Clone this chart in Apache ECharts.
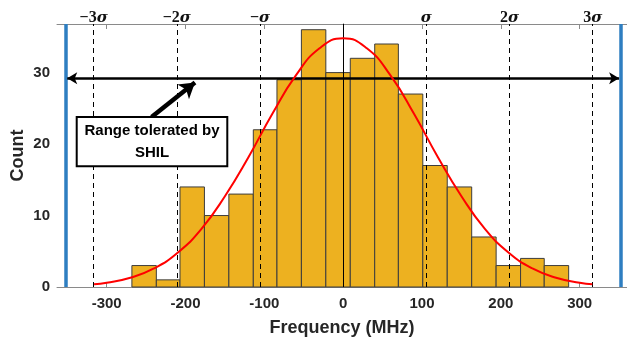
<!DOCTYPE html>
<html><head><meta charset="utf-8">
<script src="https://cdn.jsdelivr.net/npm/echarts@6/dist/echarts.min.js"></script>
<style>html,body{margin:0;padding:0;background:#fff}#c{width:627px;height:342px}</style>
</head><body><div id="c"></div>
<script>
// ---- data ----
const binEdges = [-268,-237,-207,-176,-145,-114,-84,-53,-22,9,40,70,101,132,163,194,225,255,286];
const counts   = [3,1,14,10,13,22,29,36,30,32,34,27,17,14,7,3,4,3];
const fitX = [-316,-300,-270,-240,-210,-180,-150,-120,-90,-60,-30,0,30,60,90,120,150,180,210,240,270,300,316];
const fitY = [0.4,0.6,1.3,2.6,4.8,8.1,12.7,18.2,24.2,29.6,33.4,34.8,33.4,29.6,24.2,18.2,12.7,8.1,4.8,2.6,1.3,0.6,0.4];
const sigmaPos = [-316.5,-211,-105.5,105.5,211,316.5];
const sigmaLabels = ['−3','−2','−','','2','3'];
const xTicks = [-300,-200,-100,0,100,200,300];
const yTicks = [0,10,20,30];
const meanX = 0;
const shilLimits = [-352,352];
const shilArrowY = 29.2;
const arrowFrom = [-350,350];
const annotText = ['Range tolerated by','SHIL'];
const pointerFrom = [-243,23.8];
const pointerTo = [-188,28.6];

const bars = counts.map((c,i)=>[binEdges[i],binEdges[i+1],c]);
const fit = fitX.map((x,i)=>[x,fitY[i]]);

const chart = echarts.init(document.getElementById('c'));
const axisGray = '#8a8a8a';
const txt = '#262626';
const option = {
  animation:false,
  grid:{left:57,right:0,top:24,bottom:55,containLabel:false,outerBoundsMode:'none'},
  xAxis:[{
    type:'value',min:-363,max:360,interval:100,position:'bottom',
    name:'Frequency (MHz)',nameLocation:'middle',nameGap:32,
    nameTextStyle:{fontFamily:'Liberation Sans',fontWeight:'bold',fontSize:18,color:txt},
    axisLine:{show:true,lineStyle:{color:axisGray,width:1}},
    axisTick:{show:true,inside:true,length:5,lineStyle:{color:axisGray},customValues:xTicks},
    axisLabel:{fontFamily:'Liberation Sans',fontWeight:'bold',fontSize:15,color:txt,margin:9,customValues:xTicks,formatter:v=>String(v)},
    splitLine:{show:false}
  },{
    type:'value',min:-363,max:360,position:'top',
    axisLine:{show:true,onZero:false,lineStyle:{color:axisGray,width:1}},
    axisTick:{show:true,inside:true,length:5,lineStyle:{color:axisGray},customValues:xTicks},
    axisLabel:{show:false},splitLine:{show:false}
  }],
  yAxis:[{
    type:'value',min:0,max:36.8,position:'left',
    name:'Count',nameLocation:'middle',nameGap:30,nameRotate:90,nameMoveOverlap:false,
    nameTextStyle:{fontFamily:'Liberation Sans',fontWeight:'bold',fontSize:18,color:txt},
    axisLine:{show:true,lineStyle:{color:axisGray,width:1}},
    axisTick:{show:true,inside:true,length:5,lineStyle:{color:axisGray},customValues:yTicks},
    axisLabel:{fontFamily:'Liberation Sans',fontWeight:'bold',fontSize:15,color:txt,margin:7,customValues:yTicks},
    splitLine:{show:false}
  },{
    type:'value',min:0,max:36.8,position:'right',
    axisLine:{show:true,lineStyle:{color:axisGray}},
    axisTick:{show:true,inside:true,length:5,lineStyle:{color:axisGray},customValues:yTicks},
    axisLabel:{show:false},splitLine:{show:false}
  }],
  series:[
    {type:'custom',xAxisIndex:0,yAxisIndex:0,data:bars,z:2,
     renderItem:(params,api)=>{
       const p0=api.coord([api.value(0),api.value(2)]);
       const p1=api.coord([api.value(1),0]);
       return {type:'rect',shape:{x:p0[0],y:p0[1],width:p1[0]-p0[0],height:p1[1]-p0[1]},
               style:{fill:'#EDB120',stroke:'#3d3d3d',lineWidth:1}};
     }},
    {type:'line',data:[],z:3,silent:true,
     markLine:{silent:true,symbol:['none','none'],animation:false,
       lineStyle:{color:'#000',type:[5,4],width:1},
       label:{show:true,position:'end',distance:-2,color:'#111',
         formatter:p=>'{n|'+sigmaLabels[p.dataIndex]+'}{s|σ}',
         rich:{n:{fontFamily:'Liberation Serif',fontWeight:'bold',fontSize:16,color:'#111'},
               s:{fontFamily:'DejaVu Serif',fontStyle:'italic',fontWeight:'bold',fontSize:15,color:'#111'}}},
       data:sigmaPos.map(v=>({xAxis:v}))}},
    {type:'line',data:[],z:3,silent:true,
     markLine:{silent:true,symbol:['none','none'],label:{show:false},
       lineStyle:{color:'#000',type:'solid',width:1},data:[{xAxis:meanX}]}},
    {type:'line',data:[],z:4,silent:true,
     markLine:{silent:true,symbol:['none','none'],label:{show:false},
       lineStyle:{color:'#2E7EC1',type:'solid',width:3.5},data:shilLimits.map(v=>({xAxis:v}))}},
    {type:'line',data:fit,smooth:true,showSymbol:false,z:5,
     lineStyle:{color:'#FF0000',width:2},itemStyle:{color:'#FF0000'}},
    {type:'line',data:[],z:6,silent:true,
     markLine:{silent:true,symbol:['arrow','arrow'],symbolSize:[9,10],label:{show:false},
       lineStyle:{color:'#000',type:'solid',width:2.5},
       data:[[{coord:[arrowFrom[0],shilArrowY]},{coord:[arrowFrom[1],shilArrowY]}]]}},
    {type:'line',data:[],z:6,silent:true,
     markLine:{silent:true,symbol:['none','arrow'],symbolSize:[14,15],label:{show:false},
       lineStyle:{color:'#000',type:'solid',width:4.5},
       data:[[{coord:pointerFrom},{coord:pointerTo}]]}}
  ]
};
chart.setOption(option);
// annotation box placed in data coordinates
const tl = chart.convertToPixel({xAxisIndex:0,yAxisIndex:0},[-338,23.8]);
const br = chart.convertToPixel({xAxisIndex:0,yAxisIndex:0},[-147,16.9]);
chart.setOption({graphic:[{type:'group',z:100,children:[
  {type:'rect',shape:{x:tl[0],y:tl[1],width:br[0]-tl[0],height:br[1]-tl[1]},
   style:{fill:'#fff',stroke:'#000',lineWidth:2},z:100},
  {type:'text',x:(tl[0]+br[0])/2,y:(tl[1]+br[1])/2,z:101,
   style:{text:annotText.join('\n'),align:'center',verticalAlign:'middle',
     fontFamily:'Liberation Sans',fontWeight:'bold',fontSize:15,lineHeight:22,fill:'#000'}}
]}]});
</script></body></html>
